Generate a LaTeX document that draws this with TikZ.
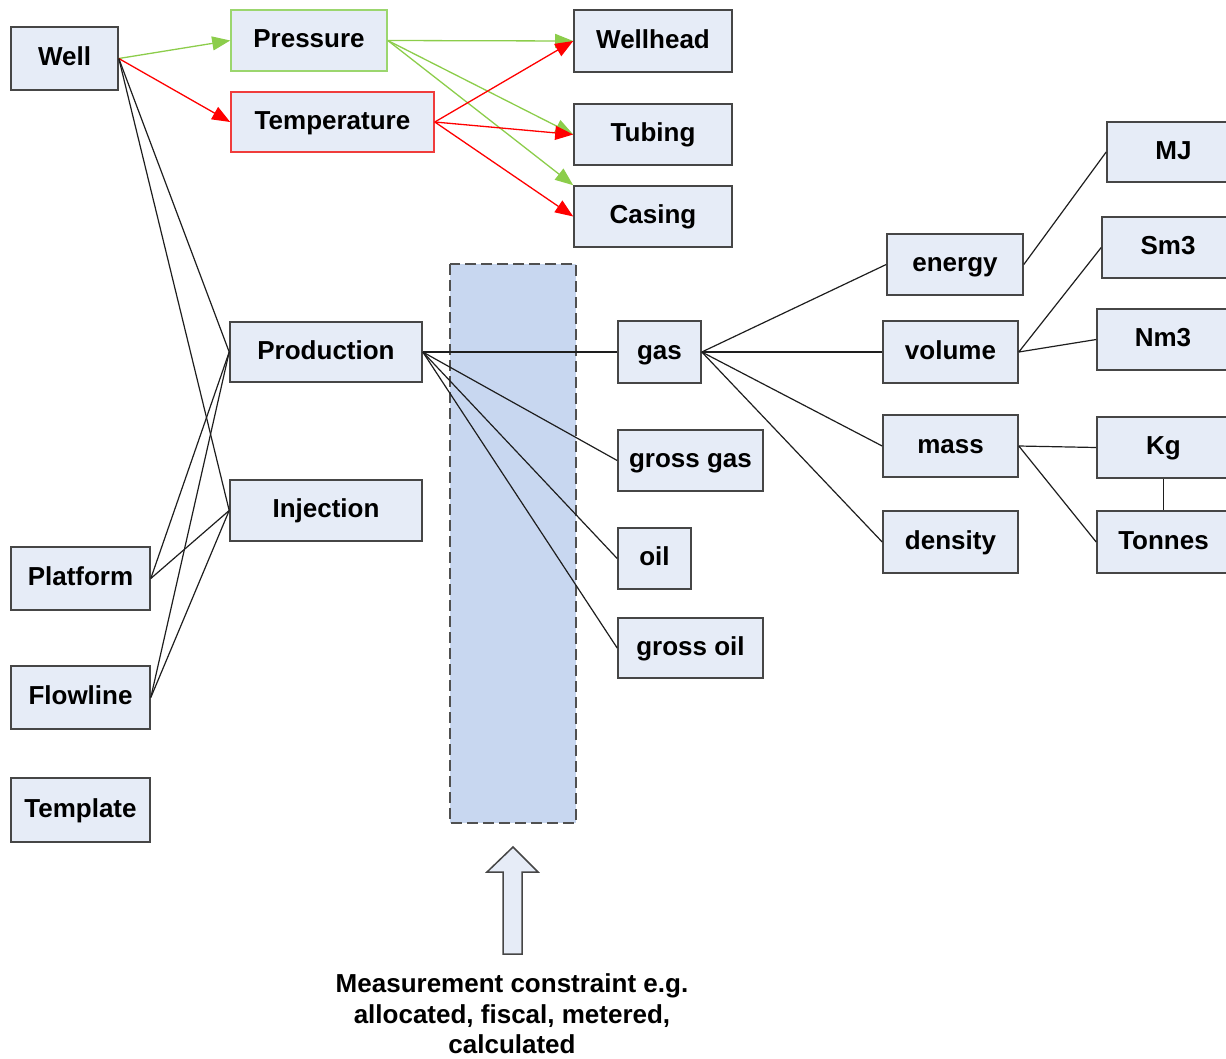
\documentclass[tikz,border=0pt]{standalone}
\usepackage{fontspec}
\setmainfont{Liberation Sans}
\usetikzlibrary{arrows.meta}
\definecolor{boxfill}{RGB}{230,236,247}
\definecolor{boxline}{RGB}{70,70,70}
\definecolor{grn}{RGB}{140,205,75}
\definecolor{grnline}{RGB}{155,214,110}
\definecolor{redline}{RGB}{240,60,60}
\definecolor{zone}{RGB}{200,215,240}
\definecolor{zoneline}{RGB}{80,80,80}
\definecolor{conn}{RGB}{30,30,30}
\tikzset{
  box/.style={draw=boxline, fill=boxfill, line width=1.6pt, inner sep=0pt,
    font=\fontsize{26}{31}\selectfont\bfseries, text height=19pt, text depth=4.4pt},
  link/.style={draw=conn, line width=1.2pt},
  garrow/.style={draw=grn, line width=1.3pt, -{Triangle[length=18pt,width=14pt]}},
  rarrow/.style={draw=red, line width=1.3pt, -{Triangle[length=18pt,width=14pt]}},
  captxt/.style={font=\fontsize{26}{31}\selectfont\bfseries, inner sep=0pt, anchor=base}
}
\begin{document}
\begin{tikzpicture}[x=1pt,y=-1pt]
\useasboundingbox (0,0) rectangle (1226,1058);
% measurement zone
\path[fill=zone, draw=zoneline, line width=1.5pt, dash pattern=on 11pt off 5pt] (450,264) rectangle (576,823);
% nodes
\node[box, minimum width=107, minimum height=63] (well) at (64.5,58.5) {Well};
\node[box, draw=grnline, minimum width=156, minimum height=61] (pressure) at (309,40.5) {Pressure};
\node[box, draw=redline, minimum width=203, minimum height=60] (temp) at (332.5,122) {Temperature};
\node[box, minimum width=158, minimum height=62] (wellhead) at (653,41) {Wellhead};
\node[box, minimum width=158, minimum height=61] (tubing) at (653,134.5) {Tubing};
\node[box, minimum width=158, minimum height=61] (casing) at (653,216.5) {Casing};
\node[box, minimum width=133, minimum height=60] (mj) at (1173.5,152) {MJ};
\node[box, minimum width=132, minimum height=61] (sm3) at (1168,247.5) {Sm3};
\node[box, minimum width=132, minimum height=61] (nm3) at (1163,339.5) {Nm3};
\node[box, minimum width=136, minimum height=61] (energy) at (955,264.5) {energy};
\node[box, minimum width=135, minimum height=62] (volume) at (950.5,352) {volume};
\node[box, minimum width=135, minimum height=62] (mass) at (950.5,446) {mass};
\node[box, minimum width=135, minimum height=62] (density) at (950.5,542) {density};
\node[box, minimum width=133, minimum height=61] (kg) at (1163.5,447.5) {Kg};
\node[box, minimum width=133, minimum height=62] (tonnes) at (1163.5,542) {Tonnes};
\node[box, minimum width=192, minimum height=60] (prod) at (326,352) {Production};
\node[box, minimum width=192, minimum height=61] (inj) at (326,510.5) {Injection};
\node[box, minimum width=139, minimum height=63] (platform) at (80.5,578.5) {Platform};
\node[box, minimum width=139, minimum height=63] (flowline) at (80.5,697.5) {Flowline};
\node[box, minimum width=139, minimum height=64] (template) at (80.5,810) {Template};
\node[box, minimum width=83, minimum height=62] (gas) at (659.5,352) {gas};
\node[box, minimum width=145, minimum height=61] (grossgas) at (690.5,460.5) {gross gas};
\node[box, minimum width=73, minimum height=61] (oil) at (654.5,558.5) {oil};
\node[box, minimum width=145, minimum height=60] (grossoil) at (690.5,648) {gross oil};
% coloured arrows
\draw[garrow] (well.east) -- (pressure.west);
\draw[rarrow] (well.east) -- (temp.west);
\draw[garrow] (pressure.east) -- (wellhead.west);
\draw[garrow] (pressure.east) -- (tubing.west);
\draw[garrow] (pressure.east) -- (casing.north west);
\draw[rarrow] (temp.east) -- (wellhead.west);
\draw[rarrow] (temp.east) -- (tubing.west);
\draw[rarrow] (temp.east) -- (casing.west);
% black links
\draw[link] (well.east) -- (prod.west);
\draw[link] (well.east) -- (inj.west);
\draw[link] (platform.east) -- (prod.west);
\draw[link] (platform.east) -- (inj.west);
\draw[link] (flowline.east) -- (prod.west);
\draw[link] (flowline.east) -- (inj.west);
\draw[link] (prod.east) -- (gas.west);
\draw[link] (prod.east) -- (grossgas.west);
\draw[link] (prod.east) -- (oil.west);
\draw[link] (prod.east) -- (grossoil.west);
\draw[link] (gas.east) -- (energy.west);
\draw[link] (gas.east) -- (volume.west);
\draw[link] (gas.east) -- (mass.west);
\draw[link] (gas.east) -- (density.west);
\draw[link] (energy.east) -- (mj.west);
\draw[link] (volume.east) -- (sm3.west);
\draw[link] (volume.east) -- (nm3.west);
\draw[link] (mass.east) -- (kg.west);
\draw[link] (mass.east) -- (tonnes.west);
\draw[link] (kg.south) -- (tonnes.north);
% big arrow
\draw[fill=boxfill, draw=boxline, line width=1.5pt, line join=miter]
  (503,954) -- (503,872) -- (487,872) -- (513,847) -- (538,872) -- (522,872) -- (522,954) -- cycle;
% caption
\node[captxt] (cap1) at (512,992) {Measurement constraint e.g.};
\node[captxt] (cap2) at (512,1023) {allocated, fiscal, metered,};
\node[captxt] (cap3) at (512,1053) {calculated};
\end{tikzpicture}
\end{document}
